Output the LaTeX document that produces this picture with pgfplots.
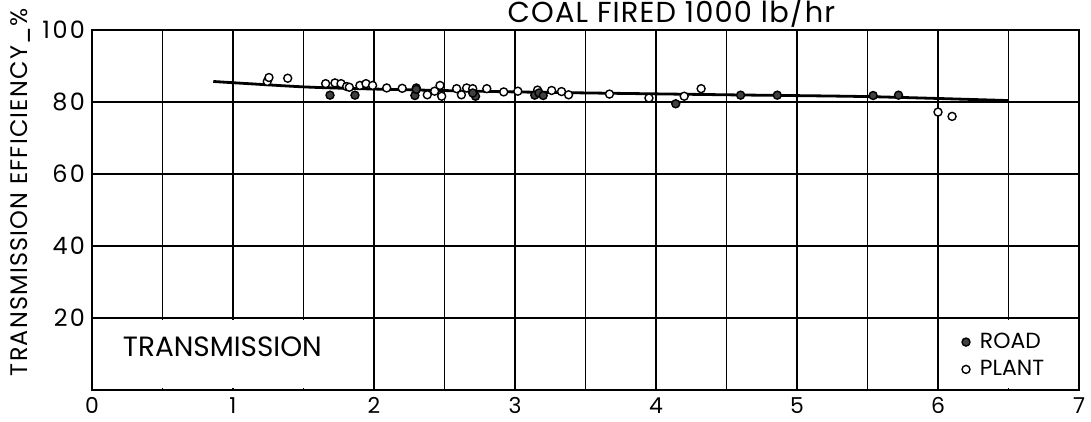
\documentclass[border=0pt]{standalone}
\usepackage{fontspec}
\setmainfont{Poppins}
\usepackage{pgfplots}
\pgfplotsset{compat=1.18}
\begin{document}
\begin{tikzpicture}
\path[use as bounding box] (-46bp,-16bp) rectangle (499.5bp,195bp);
\begin{axis}[
  scale only axis, width=493.5bp, height=180bp,
  xmin=0, xmax=7, ymin=0, ymax=100,
  clip=false,
  xtick={0,1,...,7},
  minor xtick={0.5,1.5,...,6.5},
  ytick={20,40,60,80,100},
  grid=both,
  major grid style={black, line width=0.6bp},
  minor grid style={black, line width=0.6bp},
  axis line style={black, line width=1bp},
  major tick length=0pt, minor tick length=0pt,
  /pgf/number format/assume math mode=true,
  xticklabel style={font=\fontsize{11}{13}\selectfont, inner sep=0.5bp, yshift=-3.2bp},
  yticklabel style={font=\fontsize{12}{14}\selectfont\addfontfeatures{LetterSpace=10}},
  ylabel={TRANSMISSION EFFICIENCY\_\%},
  ylabel style={font=\fontsize{12}{14}\selectfont\addfontfeatures{LetterSpace=5}, at={(rel axis cs:0,0.55)}, anchor=center, yshift=36bp},
  legend style={draw=none, fill=none, at={(axis cs:6.125,18.2)}, anchor=north west,
    font=\fontsize{11}{13}\selectfont, row sep=0.5bp},
  legend cell align=left,
  reverse legend,
]
\fill[white] (axis cs:0.012,0.5) rectangle (axis cs:1.99,19.5);
\fill[white] (axis cs:6.01,0.5) rectangle (axis cs:6.988,19.5);
\addplot[black, line width=1.4bp, smooth, tension=0.4, forget plot] coordinates {
 (0.86,85.7) (1.5,84.2) (2,83.6) (3,82.8) (4.5,82.0) (5.5,81.5) (6.5,80.4)};
\addplot[only marks, mark=*, mark size=2bp, draw=black, fill=white, line width=0.7bp] coordinates {
 (1.243,85.7) (1.255,86.8) (1.388,86.6) (1.657,85.1) (1.723,85.3) (1.766,85.1)
 (1.806,84.3) (1.825,84.1) (1.90,84.6) (1.943,85.1) (1.99,84.6) (2.09,83.9)
 (2.20,83.8) (2.30,83.9) (2.378,82.0) (2.43,83.0) (2.468,84.6) (2.48,81.6)
 (2.586,83.7) (2.62,82.0) (2.657,83.9) (2.70,83.7) (2.80,83.7) (2.92,82.8)
 (3.02,83.0) (3.16,83.3) (3.26,83.2) (3.33,82.9) (3.38,82.0) (3.67,82.2)
 (3.95,81.1) (4.20,81.6) (4.32,83.7) (6.00,77.2) (6.10,76.0)};
\addlegendentry{\hspace{3bp}PLANT}
\addplot[only marks, mark=*, mark size=2bp, draw=black, fill=black!75, line width=0.7bp] coordinates {
 (1.688,81.9) (1.865,81.9) (2.29,81.8) (2.30,83.5) (2.72,81.6) (2.70,82.5)
 (3.14,81.9) (3.17,82.5) (3.20,81.8) (4.14,79.5) (4.60,81.9) (4.86,81.9)
 (5.54,81.8) (5.72,81.9)};
\addlegendentry{\hspace{3bp}ROAD}
\node[anchor=base, font=\fontsize{14.5}{16}\selectfont\addfontfeatures{LetterSpace=4}] at (axis cs:4.11,100) [yshift=3.5bp] {COAL FIRED 1000 lb/hr};
\node[anchor=base, font=\fontsize{14}{16}\selectfont] at (axis cs:0.925,9.4) {TRANSMISSION};
\end{axis}
\end{tikzpicture}
\end{document}
